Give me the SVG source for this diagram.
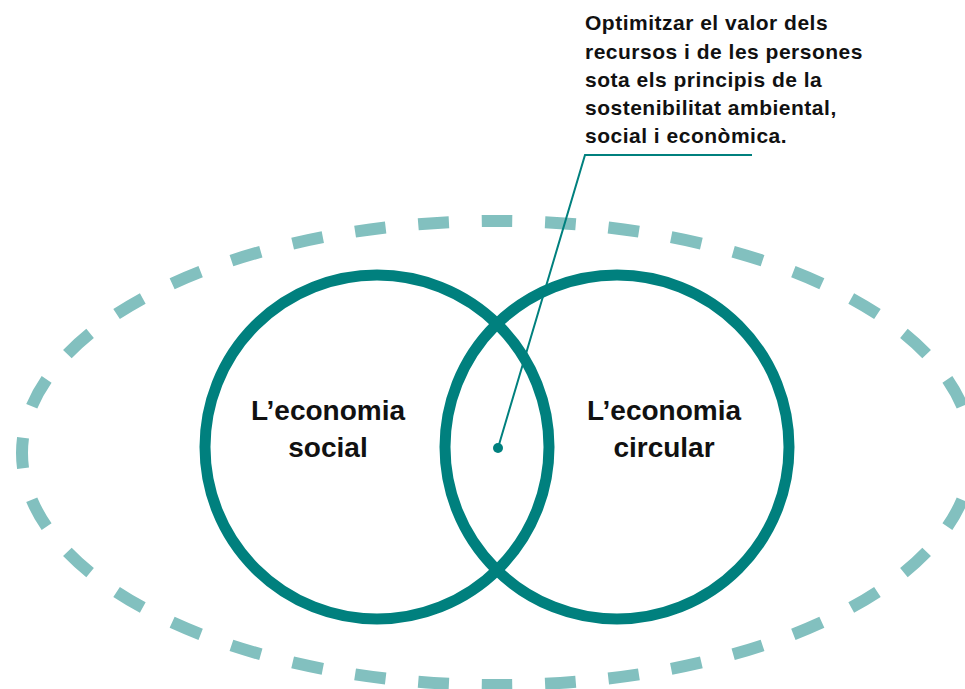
<svg xmlns="http://www.w3.org/2000/svg" width="965" height="689" viewBox="0 0 965 689">
<style>
.ring{fill:none;stroke:#00807e;stroke-width:11}
.outer{fill:none;stroke:#82c0bf;stroke-width:12;stroke-dasharray:31 33;stroke-dashoffset:15.5}
.lbl{font-family:"Liberation Sans",Arial,sans-serif;font-weight:bold;font-size:28px;fill:#111;text-anchor:middle}
.note{font-family:"Liberation Sans",Arial,sans-serif;font-weight:bold;font-size:21px;fill:#111;letter-spacing:0.5px}
.lead{fill:none;stroke:#00807e;stroke-width:2}
</style>
<rect width="965" height="689" fill="#fff"/>
<g id="scope">
<ellipse class="outer" cx="497" cy="453" rx="475" ry="232" pathLength="2304"/>
</g>
<g id="economia-social">
<circle class="ring" cx="377" cy="447" r="172"/>
<text class="lbl" x="328" y="420">L’economia</text>
<text class="lbl" x="328" y="457">social</text>
</g>
<g id="economia-circular">
<circle class="ring" cx="617" cy="447" r="172"/>
<text class="lbl" x="664" y="420">L’economia</text>
<text class="lbl" x="664" y="457">circular</text>
</g>
<g id="connectors">
<polyline class="lead" points="498,448 585,155 752,155"/>
<circle cx="498" cy="448" r="5" fill="#00807e"/>
</g>
<g id="note">
<text class="note" x="585" y="30">Optimitzar el valor dels</text>
<text class="note" x="585" y="58.5">recursos i de les persones</text>
<text class="note" x="585" y="87">sota els principis de la</text>
<text class="note" x="585" y="115">sostenibilitat ambiental,</text>
<text class="note" x="585" y="143">social i econòmica.</text>
</g>
</svg>
